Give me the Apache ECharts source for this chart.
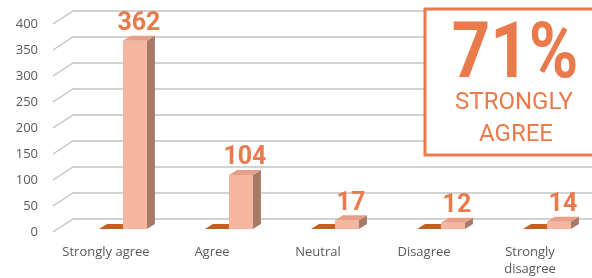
<!DOCTYPE html>
<html>
<head>
<meta charset="utf-8">
<script src="https://cdn.jsdelivr.net/npm/echarts@6/dist/echarts.min.js"></script>
<style>
  html, body { margin: 0; padding: 0; background: #fff; }
  #chart { width: 592px; height: 278px; }
</style>
</head>
<body>
<div id="chart"></div>
<script>
const categories = ['Strongly agree', 'Agree', 'Neutral', 'Disagree', 'Strongly disagree']
const baseSeries = [0, 0, 0, 0, 0]
const responses = [362, 104, 17, 12, 14]
const yTicks = [0, 50, 100, 150, 200, 250, 300, 350, 400]

const ORANGE = '#E97A4B'
const DEPTH_X = 20, DEPTH_Y = -13
const BAR_DX = 8, BAR_DY = -5

const chart = echarts.init(document.getElementById('chart'))

// back wall + left diagonals for every y tick
function renderWall(params, api) {
  const p = api.coord([0, api.value(1)])
  const left = params.coordSys.x
  const y = p[1]
  return {
    type: 'polyline',
    shape: { points: [[left, y], [left + DEPTH_X, y + DEPTH_Y], [600, y + DEPTH_Y]] },
    style: { stroke: '#C4C4C4', lineWidth: 1.4, fill: null }
  }
}

function box3d(x0, w, yTop, yBase, front, side, top) {
  const children = []
  if (yBase - yTop > 0.5) {
    children.push({ type: 'rect', shape: { x: x0, y: yTop, width: w, height: yBase - yTop }, style: { fill: front } })
    children.push({
      type: 'polygon',
      shape: { points: [[x0 + w, yTop], [x0 + w + BAR_DX, yTop + BAR_DY], [x0 + w + BAR_DX, yBase + BAR_DY], [x0 + w, yBase]] },
      style: { fill: side }
    })
  }
  children.push({
    type: 'polygon',
    shape: { points: [[x0, yTop], [x0 + w, yTop], [x0 + w + BAR_DX, yTop + BAR_DY], [x0 + BAR_DX, yTop + BAR_DY]] },
    style: { fill: top }
  })
  return children
}

function renderBars(kind) {
  return function (params, api) {
    const i = api.value(0)
    const v = api.value(1)
    const base = api.coord([i, 0])
    const topPt = api.coord([i, v])
    const band = api.size([1, 0])[0]
    const w = band * 0.226
    const yBase = base[1] - 3
    const yTop = topPt[1] - 3
    if (kind === 'base') {
      const x0 = base[0] - band * 0.066
      return { type: 'group', children: box3d(x0, w, yTop, yBase, '#C4601F', '#9A4A18', '#C4601F') }
    }
    const x0 = base[0] - band * 0.066 + w
    const children = box3d(x0, w, yTop, yBase, '#F5B6A0', '#A97968', '#E6A08A')
    children.push({
      type: 'text',
      x: x0 + w / 2 + BAR_DX / 2,
      y: yTop + BAR_DY + 1,
      scaleY: 1.05,
      style: {
        text: String(v),
        font: 'bold 25px Roboto',
        fill: ORANGE,
        textAlign: 'center',
        textVerticalAlign: 'bottom'
      }
    })
    return { type: 'group', children }
  }
}

const option = {
  animation: false,
  grid: { left: 53, right: 9, top: 24, bottom: 46 },
  xAxis: {
    type: 'category',
    data: categories,
    axisLine: { show: false },
    axisTick: { show: false },
    axisLabel: {
      interval: 0,
      hideOverlap: false,
      margin: 12,
      color: '#595959',
      fontFamily: 'Open Sans',
      fontSize: 13,
      lineHeight: 17,
      formatter: (v) => (v.length > 15 ? v.replace(' ', '\n') : v)
    }
  },
  yAxis: {
    type: 'value',
    min: 0,
    max: 400,
    interval: 50,
    splitLine: { show: false },
    axisLine: { show: false },
    axisTick: { show: false },
    axisLabel: { color: '#595959', fontFamily: 'Open Sans', fontSize: 13, margin: 15 }
  },
  series: [
    { type: 'custom', renderItem: renderWall, data: yTicks.map((v) => [0, v]), z: 1, silent: true },
    { type: 'custom', renderItem: renderBars('base'), data: baseSeries.map((v, i) => [i, v]), z: 3 },
    { type: 'custom', renderItem: renderBars('resp'), data: responses.map((v, i) => [i, v]), z: 4 }
  ],
  graphic: [
    {
      type: 'rect',
      z: 100,
      shape: { x: 425, y: 9, width: 180, height: 146 },
      style: { fill: '#fff', stroke: ORANGE, lineWidth: 3 }
    },
    {
      type: 'text', z: 101, x: 515, y: 57, scaleX: 0.86,
      style: { text: '71%', font: 'bold 78px Roboto', fill: ORANGE, textAlign: 'center', textVerticalAlign: 'middle' }
    },
    {
      type: 'text', z: 101, x: 514, y: 103,
      style: { text: 'STRONGLY', font: '24px Roboto', fill: ORANGE, textAlign: 'center', textVerticalAlign: 'middle' }
    },
    {
      type: 'text', z: 101, x: 516, y: 135,
      style: { text: 'AGREE', font: '24px Roboto', fill: ORANGE, textAlign: 'center', textVerticalAlign: 'middle' }
    }
  ]
}

chart.setOption(option)
</script>
</body>
</html>
